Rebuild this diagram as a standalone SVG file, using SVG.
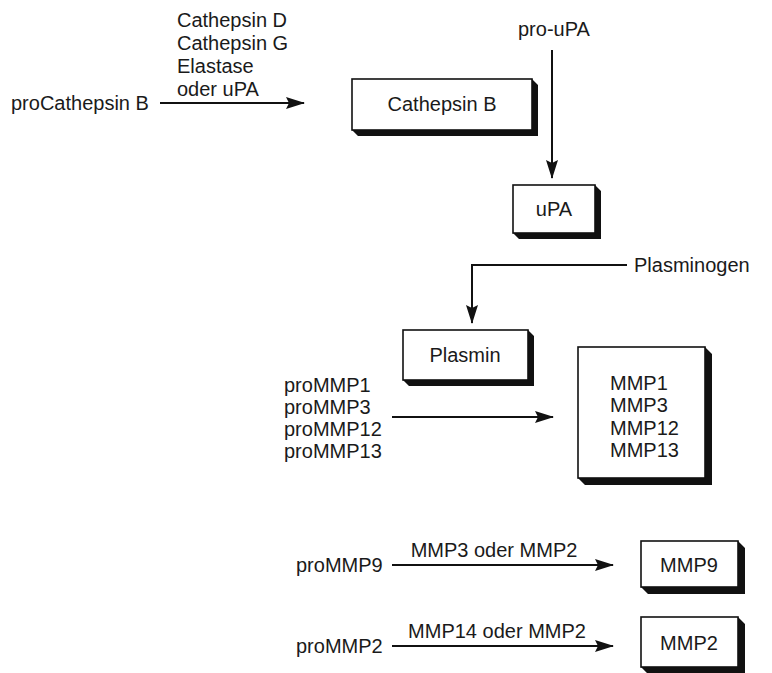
<svg xmlns="http://www.w3.org/2000/svg" width="772" height="673" viewBox="0 0 772 673">
<style>
text{font-family:"Liberation Sans",Arial,sans-serif;font-size:20px;fill:#1a1a1a}
.c{text-anchor:middle}
.box{fill:#fff;stroke:#111;stroke-width:1.6}
.sh{fill:#111}
.ln{fill:none;stroke:#111;stroke-width:2}
</style>
<defs>
<marker id="ah" markerWidth="20" markerHeight="12" refX="18" refY="6" orient="auto" markerUnits="userSpaceOnUse">
<path d="M0,0 L19,6 L0,12 L3,6 Z" fill="#111"/>
</marker>
</defs>
<rect width="772" height="673" fill="#fff"/>
<g id="connectors">
<path class="ln" d="M160,103 H304" marker-end="url(#ah)"/>
<path class="ln" d="M552,50 V178" marker-end="url(#ah)"/>
<path class="ln" d="M627,265 H472 V323" marker-end="url(#ah)"/>
<path class="ln" d="M392,417 H553" marker-end="url(#ah)"/>
<path class="ln" d="M392,565 H613" marker-end="url(#ah)"/>
<path class="ln" d="M392,646 H613" marker-end="url(#ah)"/>
</g>
<g id="proCathepsinB"><text x="11" y="110">proCathepsin B</text></g>
<g id="enzymes1">
<text x="177" y="27">Cathepsin D</text>
<text x="177" y="50">Cathepsin G</text>
<text x="177" y="73">Elastase</text>
<text x="177" y="96">oder uPA</text>
</g>
<g id="cathepsinB">
<polygon class="sh" points="532,79 538,85 538,136 358,136 352,130 532,130"/>
<rect class="box" x="352" y="79" width="180" height="51"/>
<text class="c" x="442" y="111">Cathepsin B</text>
</g>
<g id="pro-uPA"><text x="518" y="36">pro-uPA</text></g>
<g id="uPA">
<polygon class="sh" points="595,185 601,191 601,239 519,239 513,233 595,233"/>
<rect class="box" x="513" y="185" width="82" height="48"/>
<text class="c" x="554" y="216">uPA</text>
</g>
<g id="plasminogen"><text x="634" y="272">Plasminogen</text></g>
<g id="plasmin">
<polygon class="sh" points="528,330 534,336 534,386 409,386 403,380 528,380"/>
<rect class="box" x="403" y="330" width="125" height="50"/>
<text class="c" x="465" y="362">Plasmin</text>
</g>
<g id="proMMPs">
<text x="284" y="392">proMMP1</text>
<text x="284" y="414">proMMP3</text>
<text x="284" y="436">proMMP12</text>
<text x="284" y="458">proMMP13</text>
</g>
<g id="MMPs">
<polygon class="sh" points="705,347 712,354 712,485 585,485 578,478 705,478"/>
<rect class="box" x="578" y="347" width="127" height="131"/>
<text x="610" y="390">MMP1</text>
<text x="610" y="412">MMP3</text>
<text x="610" y="435">MMP12</text>
<text x="610" y="457">MMP13</text>
</g>
<g id="proMMP9"><text x="296" y="572">proMMP9</text></g>
<g id="label9"><text class="c" x="494" y="557">MMP3 oder MMP2</text></g>
<g id="MMP9">
<polygon class="sh" points="738,541 745,548 745,594 648,594 641,587 738,587"/>
<rect class="box" x="641" y="541" width="97" height="46"/>
<text class="c" x="689" y="572">MMP9</text>
</g>
<g id="proMMP2"><text x="296" y="653">proMMP2</text></g>
<g id="label2"><text class="c" x="497" y="638">MMP14 oder MMP2</text></g>
<g id="MMP2">
<polygon class="sh" points="738,617 745,624 745,674 648,674 641,667 738,667"/>
<rect class="box" x="641" y="617" width="97" height="50"/>
<text class="c" x="689" y="650">MMP2</text>
</g>
</svg>
